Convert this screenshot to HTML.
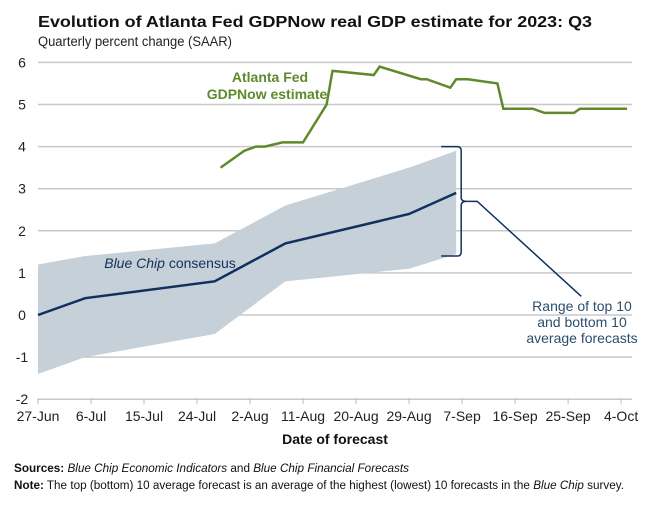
<!DOCTYPE html>
<html><head><meta charset="utf-8">
<style>
html,body{margin:0;padding:0;background:#fff;}
svg{display:block;font-family:"Liberation Sans Narrow","Liberation Sans",sans-serif;}
</style></head>
<body>
<svg id="chart" width="650" height="505" viewBox="0 0 650 505">
<text x="38" y="27" font-size="16" font-weight="bold" fill="#111" textLength="554" lengthAdjust="spacingAndGlyphs">Evolution of Atlanta Fed GDPNow real GDP estimate for 2023: Q3</text>
<text x="38" y="46" font-size="13.5" fill="#222" textLength="194" lengthAdjust="spacingAndGlyphs">Quarterly percent change (SAAR)</text>
<g id="grid"></g>
<g id="band"></g>
<g id="lines"></g>
<g id="annot"></g>
<text x="335" y="444" font-size="14" font-weight="bold" fill="#111" text-anchor="middle">Date of forecast</text>
<text x="14" y="472" font-size="11.5" fill="#111" textLength="395" lengthAdjust="spacingAndGlyphs"><tspan font-weight="bold">Sources:</tspan> <tspan font-style="italic">Blue Chip Economic Indicators</tspan> and <tspan font-style="italic">Blue Chip Financial Forecasts</tspan></text>
<text x="14" y="489" font-size="11.5" fill="#111" textLength="610" lengthAdjust="spacingAndGlyphs"><tspan font-weight="bold">Note:</tspan> The top (bottom) 10 average forecast is an average of the highest (lowest) 10 forecasts in the <tspan font-style="italic">Blue Chip</tspan> survey.</text>
</svg>
<script>
// days since 27-Jun
const gdpDays=[31,35,37,38.5,41.5,45,49,50,57,58,65,66,70,71,73,78,79,84,86,91,92,100];
const gdpValues=[3.5,3.9,4.0,4.0,4.1,4.1,5.0,5.8,5.7,5.9,5.6,5.6,5.4,5.6,5.6,5.5,4.9,4.9,4.8,4.8,4.9,4.9];
const bcDays=[0,8,30,42,63,71];
const bcConsensus=[0,0.4,0.8,1.7,2.4,2.9];
const bcTop=[1.2,1.4,1.7,2.6,3.5,3.9];
const bcBottom=[-1.4,-1.0,-0.45,0.8,1.1,1.45];
const yTicks=[6,5,4,3,2,1,0,-1,-2];
const xTickLabels=["27-Jun","6-Jul","15-Jul","24-Jul","2-Aug","11-Aug","20-Aug","29-Aug","7-Sep","16-Sep","25-Sep","4-Oct"];

const NS="http://www.w3.org/2000/svg";
const X=d=>38+d*5.89;
const Y=v=>315-v*42.1;
function mk(tag,attrs,parent){const e=document.createElementNS(NS,tag);for(const k in attrs)e.setAttribute(k,attrs[k]);parent.appendChild(e);return e;}
const grid=document.getElementById('grid'),band=document.getElementById('band'),lines=document.getElementById('lines'),annot=document.getElementById('annot');

yTicks.forEach(v=>{
  if(v>-2){const l=mk('line',{x1:38,x2:632,y1:Y(v),y2:Y(v),stroke:'#c8c8c8','stroke-width':1.5},grid);
  
  }
  const t=mk('text',{x:22,y:Y(v)+5,'font-size':14,fill:'#222','text-anchor':'middle'},grid);
  t.textContent=v;
  
  
});
const ax=mk('line',{x1:38,x2:632,y1:Y(-2),y2:Y(-2),stroke:'#c8c8c8','stroke-width':1.5},grid);


xTickLabels.forEach((s,i)=>{
  const x=X(i*9);
  const tk=mk('line',{x1:x,x2:x,y1:Y(-2)-1,y2:Y(-2)+5,stroke:'#bbb','stroke-width':1},grid);
  
  
  const t=mk('text',{x:x,y:421,'font-size':14,fill:'#222','text-anchor':'middle'},grid);
  t.textContent=s;
  
  
});

let pts=bcDays.map((d,i)=>X(d)+','+Y(bcTop[i]));
for(let i=bcDays.length-1;i>=0;i--)pts.push(X(bcDays[i])+','+Y(bcBottom[i]));
const poly=mk('polygon',{points:pts.join(' '),fill:'#c5d0d8'},band);



const bc=mk('polyline',{points:bcDays.map((d,i)=>X(d)+','+Y(bcConsensus[i])).join(' '),fill:'none',stroke:'#12305e','stroke-width':2.5},lines);


const gl=mk('polyline',{points:gdpDays.map((d,i)=>X(d)+','+Y(gdpValues[i])).join(' '),fill:'none',stroke:'#5e8a2c','stroke-width':2.5},lines);



// bracket
const bx=X(bcDays[bcDays.length-1])+3,yt=Y(4),yb=Y(1.4),ym=(yt+yb)/2;
const br=mk('path',{d:`M${bx-18},${yt} L${bx-2},${yt} Q${bx+2},${yt} ${bx+2},${yt+4} L${bx+2},${ym-4} Q${bx+2},${ym} ${bx+7},${ym} L${bx+18},${ym} L${bx+122},${ym+95} M${bx+7},${ym} Q${bx+2},${ym} ${bx+2},${ym+4} L${bx+2},${yb-4} Q${bx+2},${yb} ${bx-2},${yb} L${bx-18},${yb}`,fill:'none',stroke:'#12305e','stroke-width':1.5},annot);


function label(txt,x,y,fill,opts,name){const t=mk('text',Object.assign({x:x,y:y,fill:fill,'font-size':14,'text-anchor':'middle'},opts),annot);t.textContent=txt;return t;}
label('Atlanta Fed',270,82,'#5e8a2c',{'font-weight':'bold'},'gdpnow-label-1');
label('GDPNow estimate',267,99,'#5e8a2c',{'font-weight':'bold'},'gdpnow-label-2');
const c=label('',170,268,'#12305e',{},'blue-chip-label');
c.innerHTML='<tspan font-style="italic">Blue Chip</tspan> consensus';
label('Range of top 10',582,311,'#2a4e6e',{},'range-label-1');
label('and bottom 10',582,327,'#2a4e6e',{},'range-label-2');
label('average forecasts',582,343,'#2a4e6e',{},'range-label-3');
</script>
</body></html>
